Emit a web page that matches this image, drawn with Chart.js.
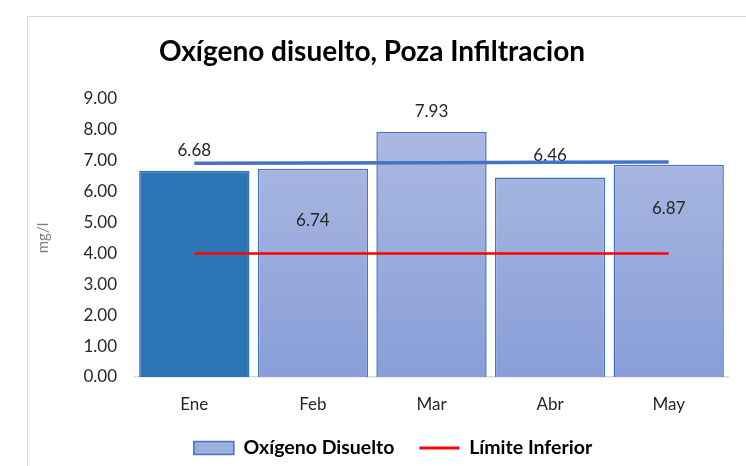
<!DOCTYPE html>
<html>
<head>
<meta charset="utf-8">
<script src="https://cdn.jsdelivr.net/npm/chart.js@4.4.1/dist/chart.umd.min.js"></script>
<style>
  html, body { margin: 0; padding: 0; background: #fff; overflow: hidden; }
  #frame { position: absolute; left: 27px; top: 16px; width: 800px; height: 500px; border: 1px solid #d9d9d9; }
  #wrap { position: absolute; left: 0; top: 0; width: 746px; height: 466px; }
</style>
</head>
<body>
<div id="frame"></div>
<div id="wrap"><canvas id="chart"></canvas></div>
<script>
const months = ['Ene', 'Feb', 'Mar', 'Abr', 'May'];
const oxigeno = [6.68, 6.74, 7.93, 6.46, 6.87];
const limiteInferior = [4.00, 4.00, 4.00, 4.00, 4.00];
const tendencia = [6.92, 6.93, 6.94, 6.95, 6.96];
const yMin = 0, yMax = 9, yStep = 1;

const FONT = 'Lato, "Liberation Sans", sans-serif';
Chart.defaults.font.family = FONT;
Chart.defaults.color = '#262626';

// value labels, placed like the manual labels of the original sheet
const valueLabels = {
  id: 'valueLabels',
  afterDatasetDraw(chart, args, opts) {
    if (args.index !== 0) return;
    const ctx = chart.ctx;
    ctx.save();
    ctx.font = '17px ' + FONT;
    ctx.fillStyle = '#262626';
    ctx.textAlign = 'center';
    ctx.textBaseline = 'middle';
    args.meta.data.forEach((bar, i) => {
      ctx.fillText(oxigeno[i].toFixed(2), bar.x, bar.y + opts.offsets[i]);
    });
    ctx.restore();
  }
};

// nudge title and legend (Excel centres them on a wider frame)
const boxShift = {
  id: 'boxShift',
  afterLayout(chart, args, opts) {
    chart.titleBlock.left += opts.title;
    chart.titleBlock.right += opts.title;
    chart.legend.left += opts.legendX;
    chart.legend.right += opts.legendX;
    chart.legend.top += opts.legendY;
  }
};

function barFill(c) {
  if (c.dataIndex === 0) return '#2E75B6';
  const area = c.chart.chartArea;
  if (!area) return '#9DAEDD';
  const g = c.chart.ctx.createLinearGradient(0, area.top, 0, area.bottom);
  g.addColorStop(0, '#B0BDE3');
  g.addColorStop(1, '#889ED8');
  return g;
}

const ctx = document.getElementById('chart').getContext('2d');
const chart = new Chart(ctx, {
  data: {
    labels: months,
    datasets: [
      {
        type: 'bar',
        label: 'Oxígeno Disuelto',
        data: oxigeno,
        backgroundColor: barFill,
        borderColor: c => c.dataIndex === 0 ? '#2E75B6' : '#4472C4',
        borderWidth: 1.5,
        barPercentage: 0.93,
        categoryPercentage: 1,
        order: 3
      },
      {
        type: 'line',
        label: 'Límite Inferior',
        data: limiteInferior,
        borderColor: '#FF0000',
        borderWidth: 2.5,
        pointRadius: 0,
        fill: false,
        order: 1
      },
      {
        type: 'line',
        label: 'Tendencia',
        data: tendencia,
        borderColor: '#4472C4',
        borderWidth: 3.5,
        pointRadius: 0,
        fill: false,
        order: 2
      }
    ]
  },
  options: {
    responsive: true,
    maintainAspectRatio: false,
    animation: false,
    layout: { padding: { left: 30, right: 18, top: 0, bottom: 0 } },
    scales: {
      x: {
        grid: { display: false },
        border: { color: '#D9D9D9', width: 1.5 },
        ticks: { padding: 9, font: { size: 17 }, color: '#262626' },
        afterFit: s => { s.height = 53.5; }
      },
      y: {
        min: yMin,
        max: yMax,
        grid: { display: false },
        border: { display: false },
        ticks: {
          stepSize: yStep,
          padding: 10,
          font: { size: 17 },
          color: '#262626',
          callback: v => v.toFixed(2)
        },
        title: {
          display: true,
          text: 'mg/l',
          color: '#7F7F7F',
          font: { size: 15 },
          padding: { top: 4, bottom: 0 }
        },
        afterFit: s => { s.width = 105; }
      }
    },
    plugins: {
      title: {
        display: true,
        text: 'Oxígeno disuelto, Poza Infiltracion',
        color: '#000',
        font: { size: 28, weight: 'bold' },
        padding: { top: 35.2, bottom: 30.2 }
      },
      legend: {
        position: 'bottom',
        maxHeight: 35.5,
        labels: {
          usePointStyle: true,
          pointStyleWidth: 40,
          boxHeight: 13,
          padding: 25,
          color: '#000',
          font: { size: 19.5, weight: 'bold' },
          generateLabels: () => [
            { text: 'Oxígeno Disuelto', fillStyle: '#9DAEDD', strokeStyle: '#4472C4', lineWidth: 1.5, pointStyle: 'rect', datasetIndex: 0, hidden: false },
            { text: 'Límite Inferior', fillStyle: '#FF0000', strokeStyle: '#FF0000', lineWidth: 3, pointStyle: 'line', datasetIndex: 1, hidden: false }
          ]
        }
      },
      tooltip: { enabled: false },
      valueLabels: { offsets: [-20.5, 52, -21, -21.7, 43.6] },
      boxShift: { title: -7, legendX: 14, legendY: -17.25 }
    }
  },
  plugins: [valueLabels, boxShift]
});
</script>
</body>
</html>
